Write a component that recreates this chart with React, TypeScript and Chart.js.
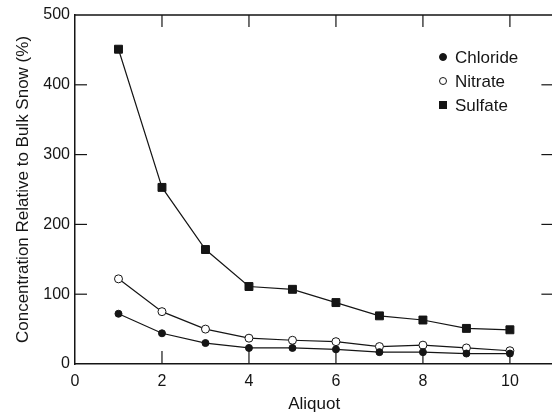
import React, { useEffect, useRef } from "react";
import { Chart, registerables } from "chart.js";

Chart.register(...registerables);

const aliquots = [1, 2, 3, 4, 5, 6, 7, 8, 9, 10];
const chloride = [72, 44, 30, 23, 23, 21, 17, 17, 15, 15];
const nitrate = [122, 75, 50, 37, 34, 32, 25, 27, 23, 19];
const sulfate = [451, 253, 164, 111, 107, 88, 69, 63, 51, 49];
const xTicks = [0, 2, 4, 6, 8, 10];
const yTicks = [0, 100, 200, 300, 400, 500];
const seriesNames = ["Chloride", "Nitrate", "Sulfate"];

const INK = "#151515";
const FONT = "'Liberation Sans', Arial, Helvetica, sans-serif";

const frameAndLegend = {
  id: "frameAndLegend",
  afterDraw(chart: any) {
    const { ctx, chartArea, scales } = chart;
    const { left, right, top, bottom } = chartArea;
    const x = scales.x;
    const y = scales.y;
    ctx.save();
    ctx.strokeStyle = INK;
    ctx.lineWidth = 1.5;
    ctx.beginPath();
    ctx.moveTo(left, top);
    ctx.lineTo(right, top);
    ctx.lineTo(right, bottom);
    ctx.stroke();
    ctx.lineWidth = 1.2;
    const L = 12;
    const seg = (a: number, b: number, c: number, d: number) => {
      ctx.beginPath();
      ctx.moveTo(a, b);
      ctx.lineTo(c, d);
      ctx.stroke();
    };
    xTicks.forEach((v) => {
      if (v === 0) return;
      const px = x.getPixelForValue(v);
      seg(px, bottom, px, bottom - L - 1);
      seg(px, top, px, top + L);
    });
    yTicks.forEach((v) => {
      if (v === 0 || v === 500) return;
      const py = y.getPixelForValue(v);
      seg(left, py, left + L, py);
      seg(right, py, right - L, py);
    });

    // legend
    const lx = left + 368;
    const ly0 = top + 42;
    const gap = 24;
    ctx.font = `17px ${FONT}`;
    ctx.textBaseline = "middle";
    ctx.textAlign = "left";
    ctx.fillStyle = INK;
    chart.data.datasets.forEach((ds: any, i: number) => {
      const cy = ly0 + i * gap;
      ctx.lineWidth = 1;
      ctx.strokeStyle = INK;
      if (ds.pointStyle === "rect") {
        ctx.fillStyle = INK;
        ctx.fillRect(lx - 4, cy - 4, 8, 8);
      } else {
        ctx.beginPath();
        ctx.arc(lx, cy, 3.5, 0, Math.PI * 2);
        ctx.fillStyle = ds.pointBackgroundColor;
        ctx.fill();
        ctx.stroke();
      }
      ctx.fillStyle = INK;
      ctx.fillText(ds.label, lx + 12, cy + 1);
    });
    ctx.restore();
  },
};

export default function App() {
  const ref = useRef<HTMLCanvasElement | null>(null);
  useEffect(() => {
    if (!ref.current) return;
    const mk = (vals: number[]) => aliquots.map((a, i) => ({ x: a, y: vals[i] }));
    const chart = new Chart(ref.current, {
      type: "line",
      data: {
        datasets: [
          {
            label: seriesNames[0],
            data: mk(chloride),
            borderColor: INK,
            borderWidth: 1.2,
            pointStyle: "circle",
            pointRadius: 3.5,
            pointBackgroundColor: INK,
            pointBorderColor: INK,
            pointBorderWidth: 1,
          },
          {
            label: seriesNames[1],
            data: mk(nitrate),
            borderColor: INK,
            borderWidth: 1.2,
            pointStyle: "circle",
            pointRadius: 4,
            pointBackgroundColor: "#ffffff",
            pointBorderColor: INK,
            pointBorderWidth: 1,
          },
          {
            label: seriesNames[2],
            data: mk(sulfate),
            borderColor: INK,
            borderWidth: 1.2,
            pointStyle: "rect",
            pointRadius: 5.6,
            pointBackgroundColor: INK,
            pointBorderColor: INK,
            pointBorderWidth: 1,
          },
        ],
      },
      options: {
        responsive: false,
        animation: false,
        layout: { padding: { top: 15, right: 4, left: 0, bottom: 0 } },
        plugins: { legend: { display: false }, tooltip: { enabled: false } },
        scales: {
          x: {
            type: "linear",
            min: 0,
            max: 11,
            afterBuildTicks: (s: any) => {
              s.ticks = xTicks.map((v) => ({ value: v }));
            },
            afterFit: (s: any) => {
              s.height = 52;
            },
            grid: { display: false, drawTicks: false },
            border: { display: true, color: INK, width: 1.5 },
            ticks: { padding: 8, color: INK, font: { size: 16, family: FONT } },
            title: {
              display: true,
              text: "Aliquot",
              color: INK,
              font: { size: 17, family: FONT },
              padding: { top: 0, bottom: 1 },
            },
          },
          y: {
            type: "linear",
            min: 0,
            max: 500,
            afterBuildTicks: (s: any) => {
              s.ticks = yTicks.map((v) => ({ value: v }));
            },
            afterFit: (s: any) => {
              s.width = 75;
            },
            grid: { display: false, drawTicks: false },
            border: { display: true, color: INK, width: 1.5 },
            ticks: { padding: 5, color: INK, font: { size: 16, family: FONT } },
            title: {
              display: true,
              text: "Concentration Relative to Bulk Snow (%)",
              color: INK,
              font: { size: 17, family: FONT },
              padding: { top: 13, bottom: 0 },
            },
          },
        },
      },
      plugins: [frameAndLegend],
    });
    return () => chart.destroy();
  }, []);
  return (
    <div
      style={{
        position: "fixed",
        left: 0,
        top: 0,
        width: 552,
        height: 416,
        overflow: "hidden",
        background: "#fff",
      }}
    >
      <canvas ref={ref} width={560} height={416} style={{ display: "block" }} />
    </div>
  );
}
